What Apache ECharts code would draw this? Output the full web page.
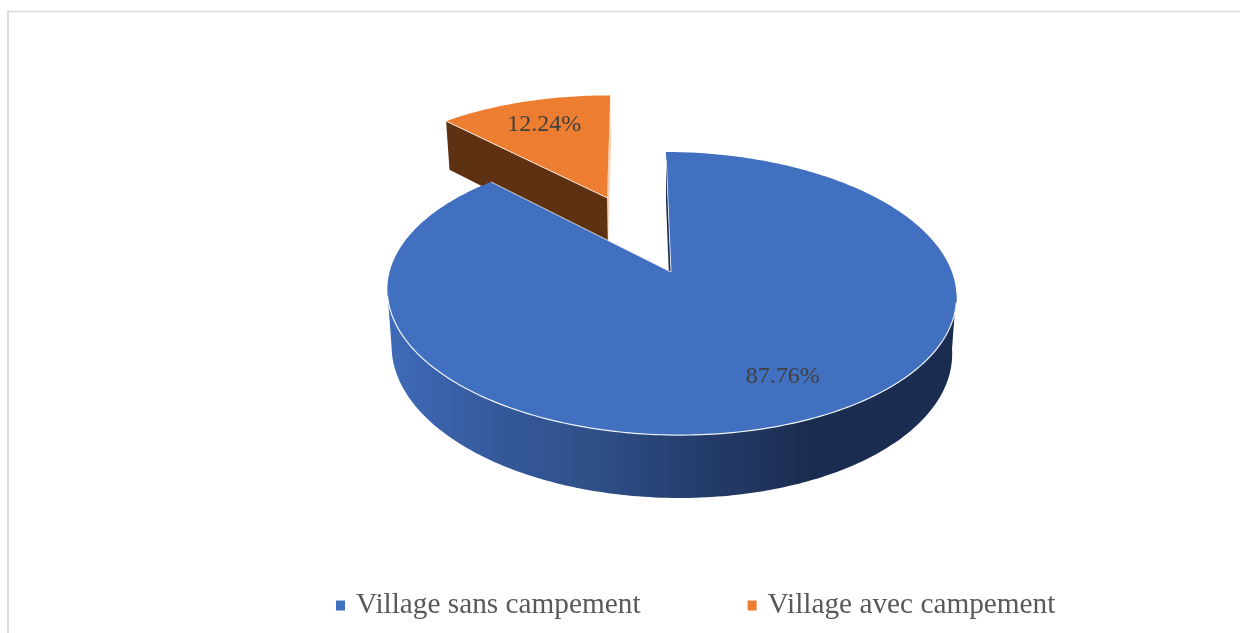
<!DOCTYPE html>
<html>
<head>
<meta charset="utf-8">
<style>html,body{margin:0;padding:0;background:#fff}#chart{width:1240px;height:633px}</style>
<script src="https://cdn.jsdelivr.net/npm/echarts@6/dist/echarts.min.js"></script>
</head>
<body>
<div id="chart"></div>
<script>
// ---- data ----
const categories = ['Village sans campement', 'Village avec campement'];
const values = [87.76, 12.24];
const labels = ['87.76%', '12.24%'];
const explode = [0, 0.628];

// ---- colours ----
const topColors = ['#4170c0', '#ed7d31'];
const labelColor = '#404040';
const orangeWall = '#5f3113';
const blueWallStops = [
  [0, '#3e6bb8'], [0.2, '#35589a'], [0.37, '#2e4f87'], [0.52, '#263f6f'],
  [0.64, '#21365f'], [0.74, '#1a2c50'], [1, '#1a2c50']
];

// ---- 3D pie projection ----
const APEX_X = 671, APEX_Y = 272;
const SCALE_X = 281.2, SCALE_Y = 138.3, PERSP = 0.152;
const SHEAR_X = 0.042, SHEAR_Y = 0.003;
const BOTTOM_SCALE = 0.985, DEPTH = 55.4;
const START_DEG = 0, WALL_FROM = 98, WALL_TO = 262;
const LABEL_R = [0.75, 0.758], LABEL_SHIFT_DEG = [-5.2, 0.6], LABEL_DY = 2;
const total = values.reduce((a, b) => a + b, 0);

function project(u, v, bottom) {
  const w = 1 + PERSP * v;
  const s = bottom ? BOTTOM_SCALE : 1;
  const dx = s * SCALE_X * u / w;
  const dyFace = -s * SCALE_Y * v / w;
  const drop = (bottom ? DEPTH : 0) / w;
  return [APEX_X + dx + SHEAR_X * dyFace, APEX_Y + dyFace + drop + SHEAR_Y * dx];
}
function sliceAngles(i) {
  let before = 0;
  for (let k = 0; k < i; k++) before += values[k];
  const a0 = START_DEG + before / total * 360;
  return [a0, a0 + values[i] / total * 360];
}
function rimPoint(i, deg, r, bottom) {
  const t = deg * Math.PI / 180;
  const [a0, a1] = sliceAngles(i);
  const m = (a0 + a1) / 2 * Math.PI / 180;
  return project(
    explode[i] * Math.sin(m) + r * Math.sin(t),
    explode[i] * Math.cos(m) + r * Math.cos(t),
    bottom
  );
}
function arc(i, from, to, bottom) {
  const n = Math.max(8, Math.ceil(Math.abs(to - from)));
  const pts = [];
  for (let k = 0; k <= n; k++) pts.push(rimPoint(i, from + (to - from) * k / n, 1, bottom));
  return pts;
}
function poly(points, style) {
  return { type: 'polygon', shape: { points }, style };
}
function line(points, stroke, w) {
  return { type: 'polyline', shape: { points }, style: { fill: null, stroke, lineWidth: w } };
}

function renderSlice(params, api) {
  const i = api.value(0);
  const [a0, a1] = sliceAngles(i);
  const apexT = rimPoint(i, 0, 0, false), apexB = rimPoint(i, 0, 0, true);
  const children = [];
  const wallFill = i === 0
    ? new echarts.graphic.LinearGradient(0, 0, 1, 0,
        blueWallStops.map(s => ({ offset: s[0], color: s[1] })))
    : orangeWall;
  if (i === 0) {
    children.push(poly([apexT, rimPoint(i, a0, 1, false), rimPoint(i, a0, 1, true), apexB],
      { fill: '#1a2c50' }));
    children.push(poly(arc(i, WALL_FROM, WALL_TO, false).concat(arc(i, WALL_TO, WALL_FROM, true)),
      { fill: wallFill }));
  } else {
    children.push(poly([apexT, rimPoint(i, a1, 1, false), rimPoint(i, a1, 1, true), apexB],
      { fill: 'rgba(237,125,49,0.35)' }));
    children.push(poly([apexT, rimPoint(i, a0, 1, false), rimPoint(i, a0, 1, true), apexB],
      { fill: wallFill }));
  }
  children.push(poly([apexT].concat(arc(i, a0, a1, false)), { fill: topColors[i] }));
  if (i === 0) {
    children.push(line(arc(i, 102, 260, false), 'rgba(255,255,255,0.9)', 1.2));
    children.push(line([rimPoint(i, a1, 1, false), apexT, rimPoint(i, a0, 0.93, false)],
      'rgba(255,255,255,0.75)', 1));
  } else {
    children.push(line([rimPoint(i, a0, 1, false), apexT], 'rgba(255,255,255,0.8)', 1));
  }
  const mid = (a0 + a1) / 2 + LABEL_SHIFT_DEG[i];
  const p = rimPoint(i, mid, LABEL_R[i], false);
  children.push({
    type: 'text', z2: 10,
    style: {
      x: p[0], y: p[1] + LABEL_DY, text: labels[i], fill: labelColor,
      font: '24px "Liberation Serif", serif', align: 'center', verticalAlign: 'middle'
    }
  });
  return { type: 'group', children };
}

const chart = echarts.init(document.getElementById('chart'), null, { renderer: 'canvas' });
chart.setOption({
  animation: false,
  backgroundColor: '#fff',
  graphic: [
    { type: 'line', shape: { x1: 7, y1: 11.5, x2: 1240, y2: 11.5 }, style: { stroke: '#dcdcdc', lineWidth: 1.5 } },
    { type: 'line', shape: { x1: 8, y1: 11, x2: 8, y2: 633 }, style: { stroke: '#dcdcdc', lineWidth: 2 } }
  ],
  legend: {
    data: categories,
    left: 331, top: 586,
    icon: 'rect', itemWidth: 9, itemHeight: 10, itemGap: 107,
    textStyle: { fontFamily: '"Liberation Serif", serif', fontSize: 29.3, color: '#595959', padding: [0, 0, 0, 6] },
    selectedMode: false
  },
  series: [
    { type: 'custom', name: categories[1], coordinateSystem: 'none', renderItem: renderSlice,
      itemStyle: { color: topColors[1] }, data: [[1, values[1]]], z: 2, silent: true },
    { type: 'custom', name: categories[0], coordinateSystem: 'none', renderItem: renderSlice,
      itemStyle: { color: topColors[0] }, data: [[0, values[0]]], z: 3, silent: true }
  ]
});
</script>
</body>
</html>
